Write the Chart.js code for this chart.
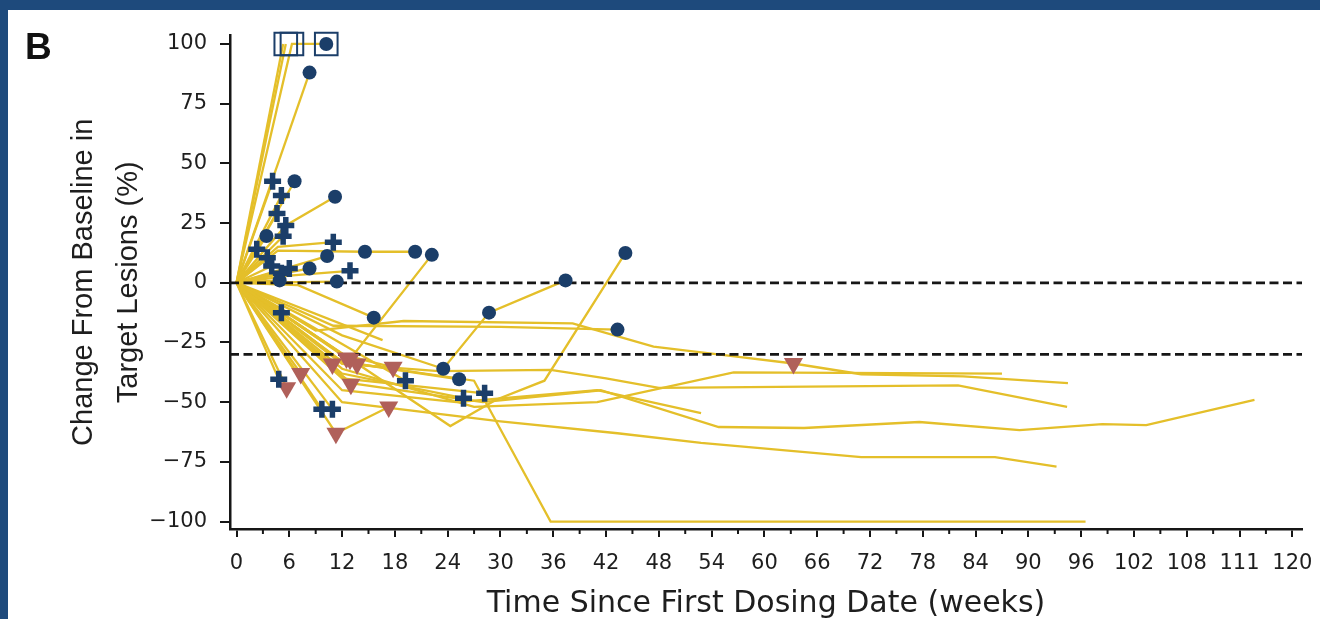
<!DOCTYPE html>
<html>
<head>
<meta charset="utf-8">
<title>Spider plot</title>
<script src="https://cdn.jsdelivr.net/npm/chart.js@4.4.1/dist/chart.umd.min.js"></script>
<style>
  html, body { margin: 0; padding: 0; width: 1320px; height: 619px; overflow: hidden; background: #1e4a7c; }
  .panel { position: absolute; left: 8px; top: 10px; width: 1312px; height: 609px; background: #fff; }
</style>
</head>
<body>
<div class="panel"><canvas id="spider"></canvas></div>
<script>
// one entry per patient: assessment times (weeks) and % change from baseline
const weeks = [
  [0, 5.3], [0, 5.6], [0, 6.3, 10.2], [0, 8.3], [0, 4.1], [0, 6.6], [0, 5.1],
  [0, 5.6, 11.2], [0, 4.6], [0, 3.4], [0, 5.3], [0, 2.3], [0, 4.7, 11],
  [0, 4.7, 14.6, 20.3], [0, 10.3], [0, 3.5], [0, 4.0], [0, 8.3], [0, 6, 12.9],
  [0, 6.0], [0, 11.4], [0, 5.1], [0, 4.9], [0, 5.1], [0, 7, 15.6],
  [0, 12, 23.5, 28.7, 37.4], [0, 12.9, 22.2], [0, 24.3, 29.5, 35, 44.2],
  [0, 11, 30, 43.3],
  [0, 9, 19, 38.2, 47.4, 56.6, 63.3, 71, 82.6, 94.5],
  [0, 12, 27, 41, 56.5, 87],
  [0, 12, 23, 35.7, 42, 48, 82, 94.4],
  [0, 13, 28, 41.4, 54.8, 64.5, 77.6, 89, 98.4, 103.4, 115.7],
  [0, 12, 30, 43.3, 52.8, 71, 86.2, 93.2],
  [0, 12, 27, 35.7, 96.5],
  [0, 12, 25, 41, 52.8],
  [0, 16.6], [0, 4.8], [0, 5.7], [0, 7.3], [0, 10.9], [0, 12.5], [0, 13.7], [0, 13],
  [0, 12, 17.8], [0, 11.3, 17.3], [0, 9.7], [0, 10.9], [0, 19.2],
  [0, 12, 25.8], [0, 12, 28.2], [0, 12, 25.3]
];
const pctChange = [
  [0, 100], [0, 100], [0, 100, 100], [0, 88], [0, 42.5], [0, 42.5], [0, 36.5],
  [0, 24, 36], [0, 29], [0, 19.6], [0, 19.5], [0, 14], [0, 15, 17],
  [0, 13.5, 13, 13], [0, 11.2], [0, 10.5], [0, 7], [0, 6], [0, 3, 5],
  [0, 6], [0, 0.5], [0, 4], [0, 1], [0, -12.5], [0, -1, -14.6],
  [0, -22, -36, -12.5, 1], [0, -32, 11.7], [0, -60, -49, -41, 12.5],
  [0, -18, -18.5, -19.6],
  [0, -20, -16, -17, -26.7, -30.8, -33.8, -38.3, -39.2, -42],
  [0, -36, -52, -50, -37.5, -38],
  [0, -34, -37, -36.5, -40, -44, -43, -52],
  [0, -42, -50, -45, -60.4, -60.8, -58.3, -61.7, -59.2, -59.6, -49],
  [0, -50, -58, -63, -67, -73, -73, -77],
  [0, -33, -41, -100, -100],
  [0, -45, -50, -45, -54.6],
  [0, -24], [0, -40.4], [0, -44], [0, -38], [0, -34], [0, -31.5], [0, -34], [0, -42.5],
  [0, -30, -35.4], [0, -63, -52], [0, -53], [0, -53], [0, -41],
  [0, -38, -48.3], [0, -40, -46.3], [0, -33, -40.4]
];
// marker at each assessment: o = circle, + = cross, v = triangle, . = none
const markers = [
  '..', '..', '..o', '.o', '.+', '.o', '.+',
  '.+o', '.+', '.o', '.+', '.+', '..+',
  '..oo', '.o', '.+', '.+', '.o', '..+',
  '.+', '.o', '.+', '.o', '.+', '..o',
  '..ooo', '.vo', '....o',
  '...o',
  '......v...',
  '......',
  '........',
  '...........',
  '........',
  '.....',
  '.....',
  '..', '.+', '.v', '.v', '.v', '.v', '.v', '.v',
  '..v', '.vv', '.+', '.+', '.+',
  '..+', '..+', '..o'
];
// values above 100% shown capped with an open box
const cappedWeeks = [5.6, 6.3, 10.2];
const cappedPct = [100, 100, 100];

const refLevels = [0, -30];
const xTickValues = [0, 6, 12, 18, 24, 30, 36, 42, 48, 54, 60, 66, 72, 78, 84, 90, 96, 102, 108, 114, 120];
const xTickLabels = ['0', '6', '12', '18', '24', '30', '36', '42', '48', '54', '60', '66', '72', '78', '84', '90', '96', '102', '108', '111', '120'];
const yTickValues = [100, 75, 50, 25, 0, -25, -50, -75, -100];

const X_MIN = -0.74, X_MAX = 121.1;
const Y_MIN = -103.1, Y_MAX = 103.5;

const YELLOW = '#e4bf2a';
const NAVY = '#1b3e69';
const BRICK = '#b0605a';
const INK = '#161616';

const lineSets = weeks.map((wk, i) => ({
  data: wk.map((w, j) => ({ x: w, y: pctChange[i][j] })),
  showLine: true,
  borderColor: YELLOW,
  borderWidth: 2.3,
  pointRadius: 0,
  order: 3
}));

const refSets = refLevels.map(v => ({
  data: [{ x: X_MIN, y: v }, { x: X_MAX, y: v }],
  showLine: true,
  borderColor: INK,
  borderWidth: 2.8,
  borderDash: [9, 4.5],
  pointRadius: 0,
  order: 2
}));

function markerPoints(code) {
  const pts = [];
  weeks.forEach((wk, i) => {
    wk.forEach((w, j) => {
      if (markers[i][j] === code) pts.push({ x: w, y: pctChange[i][j] });
    });
  });
  return pts;
}

const markerSets = [
  {
    data: markerPoints('o'),
    pointStyle: 'circle', pointRadius: 7,
    pointBackgroundColor: NAVY, pointBorderWidth: 0, order: 1, clip: false
  },
  {
    data: markerPoints('+'),
    pointStyle: 'cross', pointRadius: 8.5,
    pointBorderColor: NAVY, pointBorderWidth: 5.5, order: 1, clip: false
  },
  {
    data: markerPoints('v'),
    pointStyle: 'triangle', pointRotation: 180, pointRadius: 11,
    pointBackgroundColor: BRICK, pointBorderWidth: 0, order: 1, clip: false
  },
  {
    data: cappedWeeks.map((w, i) => ({ x: w, y: cappedPct[i] })),
    pointStyle: 'rect', pointRadius: 16,
    pointBackgroundColor: 'rgba(0,0,0,0)', pointBorderColor: NAVY, pointBorderWidth: 2,
    order: 0, clip: false
  }
];

// minor x ticks between the labelled ones, plus the panel letter
const extrasPlugin = {
  id: 'extras',
  afterDraw(chart) {
    const { ctx } = chart;
    const xs = chart.scales.x;
    ctx.save();
    ctx.strokeStyle = INK;
    ctx.lineWidth = 2;
    xTickValues.slice(0, -1).forEach(v => {
      const px = xs.getPixelForValue(v + 3);
      ctx.beginPath();
      ctx.moveTo(px, xs.top);
      ctx.lineTo(px, xs.top + 5);
      ctx.stroke();
    });
    ctx.fillStyle = '#111';
    ctx.font = 'bold 37px "Liberation Sans", Arial, sans-serif';
    ctx.textBaseline = 'alphabetic';
    ctx.fillText('B', 17, 49);
    ctx.restore();
  }
};

new Chart(document.getElementById('spider'), {
  type: 'scatter',
  data: { datasets: [...refSets, ...lineSets, ...markerSets] },
  options: {
    responsive: true,
    maintainAspectRatio: false,
    animation: false,
    layout: { padding: { top: 22, right: 14, bottom: 0, left: 0 } },
    plugins: {
      legend: { display: false },
      tooltip: { enabled: false }
    },
    scales: {
      x: {
        type: 'linear',
        min: X_MIN,
        max: X_MAX,
        afterBuildTicks: s => { s.ticks = xTickValues.map(v => ({ value: v })); },
        afterFit: s => {
          s.height = 90;
          // the last label may hang past the plot edge, like the original
          s.paddingLeft = 0;
          s.paddingRight = 0;
        },
        ticks: {
          autoSkip: false,
          maxRotation: 0,
          padding: 14,
          color: '#1e1e1e',
          font: { family: 'DejaVu Sans', size: 21 },
          callback: v => xTickLabels[xTickValues.indexOf(v)]
        },
        grid: { drawOnChartArea: false, tickLength: 8, lineWidth: 2, color: INK },
        border: { color: INK, width: 2.5 },
        title: {
          display: true,
          text: 'Time Since First Dosing Date (weeks)',
          color: '#1e1e1e',
          font: { family: 'DejaVu Sans', size: 30, lineHeight: 1 },
          padding: { top: 0, bottom: 0 }
        }
      },
      y: {
        type: 'linear',
        min: Y_MIN,
        max: Y_MAX,
        afterBuildTicks: s => { s.ticks = yTickValues.map(v => ({ value: v })); },
        afterFit: s => { s.width = 222; },
        ticks: {
          autoSkip: false,
          padding: 13,
          color: '#1e1e1e',
          font: { family: 'DejaVu Sans', size: 21 },
          callback: v => (v < 0 ? '\u2212' + Math.abs(v) : String(v))
        },
        grid: { drawOnChartArea: false, tickLength: 10, lineWidth: 2, color: INK },
        border: { color: INK, width: 2.5 },
        title: {
          display: true,
          text: ['Change From Baseline in', 'Target Lesions (%)'],
          color: '#1e1e1e',
          font: { family: 'Liberation Sans', size: 29, lineHeight: 1.55 },
          padding: { top: 54, bottom: 0 }
        }
      }
    }
  },
  plugins: [extrasPlugin]
});
</script>
</body>
</html>
